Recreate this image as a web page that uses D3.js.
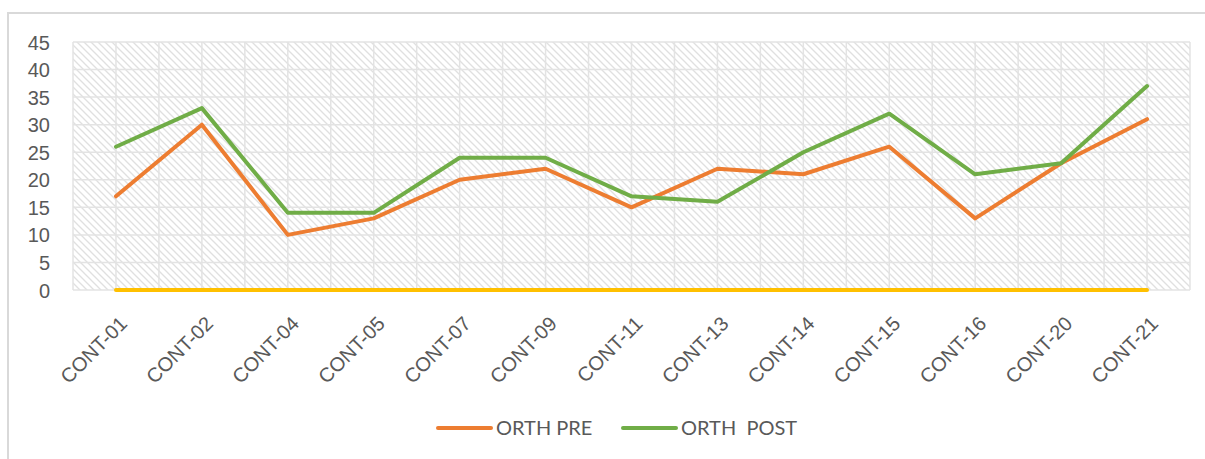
<!DOCTYPE html>
<html>
<head>
<meta charset="utf-8">
<script src="https://cdn.jsdelivr.net/npm/d3@7/dist/d3.min.js"></script>
<style>
  html, body { margin: 0; padding: 0; background: #fff; }
  svg { display: block; font-family: Lato, "Open Sans", "Noto Sans", sans-serif; }
</style>
</head>
<body>
<div id="chart"></div>
<script>
// Categories and series values
const categories = ["CONT-01", "CONT-02", "CONT-04", "CONT-05", "CONT-07", "CONT-09", "CONT-11",
                    "CONT-13", "CONT-14", "CONT-15", "CONT-16", "CONT-20", "CONT-21"];
const orthPre  = [17, 30, 10, 13, 20, 22, 15, 22, 21, 26, 13, 23, 31];
const orthPost = [26, 33, 14, 14, 24, 24, 17, 16, 25, 32, 21, 23, 37];
const baseline = [0, 0, 0, 0, 0, 0, 0, 0, 0, 0, 0, 0, 0];
const yTicks = [0, 5, 10, 15, 20, 25, 30, 35, 40, 45];
const seriesNames = ["ORTH PRE", "ORTH  POST"];

const W = 1205, H = 459;
const plot = { left: 73, top: 42, right: 1190, bottom: 290 };

const svg = d3.select("#chart").append("svg")
  .attr("width", W).attr("height", H);

// Hatched plot-area fill
const defs = svg.append("defs");
const pat = defs.append("pattern")
  .attr("id", "hatch").attr("patternUnits", "userSpaceOnUse")
  .attr("width", 7).attr("height", 7);
pat.append("rect").attr("width", 7).attr("height", 7).attr("fill", "#fff");
pat.append("path")
  .attr("d", "M-1,-1 L8,8 M-1,6 L1,8 M6,-1 L8,1")
  .attr("stroke", "#e0e0e0").attr("stroke-width", 1.3);

// Chart frame
svg.append("rect")
  .attr("x", 8).attr("y", 13).attr("width", 1220).attr("height", 470)
  .attr("fill", "none").attr("stroke", "#d9d9d9").attr("stroke-width", 2);

const x = d3.scalePoint().domain(categories)
  .range([plot.left, plot.right]).padding(0.5);
const step = x.step();
const y = d3.scaleLinear().domain([0, 45]).range([plot.bottom, plot.top]);

svg.append("rect")
  .attr("x", plot.left).attr("y", plot.top)
  .attr("width", plot.right - plot.left).attr("height", plot.bottom - plot.top)
  .attr("fill", "url(#hatch)");

// Gridlines
const grid = svg.append("g").attr("stroke", "#e3e3e3").attr("stroke-width", 1.5);
yTicks.forEach(t => {
  grid.append("line").attr("x1", plot.left).attr("x2", plot.right)
    .attr("y1", y(t)).attr("y2", y(t));
});
const vlines = [];
categories.forEach(c => { vlines.push(x(c) - step / 2); vlines.push(x(c)); });
vlines.push(plot.right);
vlines.forEach(v => {
  grid.append("line").attr("x1", v).attr("x2", v)
    .attr("y1", plot.top).attr("y2", plot.bottom);
});

// Y axis labels
const yAxis = d3.axisLeft(y).tickValues(yTicks).tickSize(0).tickPadding(0);
const gy = svg.append("g").attr("transform", `translate(50,0)`).call(yAxis);
gy.select(".domain").remove();
gy.selectAll("text").attr("fill", "#595959").style("font-size", "20px")
  .attr("dy", "0.35em").attr("x", 0);

// X axis labels, rotated
const xAxis = d3.axisBottom(x).tickSize(0).tickPadding(0);
const gx = svg.append("g").attr("transform", `translate(0,${plot.bottom})`).call(xAxis);
gx.select(".domain").remove();
gx.selectAll("text")
  .attr("fill", "#595959").style("font-size", "20px")
  .attr("text-anchor", "end").attr("dy", "0.35em")
  .attr("transform", "translate(7,30) rotate(-45)")
  .attr("y", 0).attr("x", 0);

// Series lines
const line = d3.line().x((d, i) => x(categories[i])).y(d => y(d));
const series = [
  { values: baseline, color: "#FFC000" },
  { values: orthPre,  color: "#ED7D31" },
  { values: orthPost, color: "#70AD47" }
];
series.forEach(s => {
  svg.append("path").datum(s.values)
    .attr("d", line).attr("fill", "none")
    .attr("stroke", s.color).attr("stroke-width", 4)
    .attr("stroke-linejoin", "round").attr("stroke-linecap", "round");
});

// Legend
const legend = [
  { name: seriesNames[0], color: "#ED7D31", x: 438 },
  { name: seriesNames[1], color: "#70AD47", x: 623 }
];
legend.forEach(l => {
  svg.append("line").attr("x1", l.x).attr("x2", l.x + 53)
    .attr("y1", 428).attr("y2", 428)
    .attr("stroke", l.color).attr("stroke-width", 4).attr("stroke-linecap", "round");
  svg.append("text").attr("x", l.x + 58).attr("y", 428).attr("dy", "0.35em")
    .attr("fill", "#595959").style("font-size", "20px")
    .style("white-space", "pre").attr("xml:space", "preserve")
    .text(l.name);
});
</script>
</body>
</html>
